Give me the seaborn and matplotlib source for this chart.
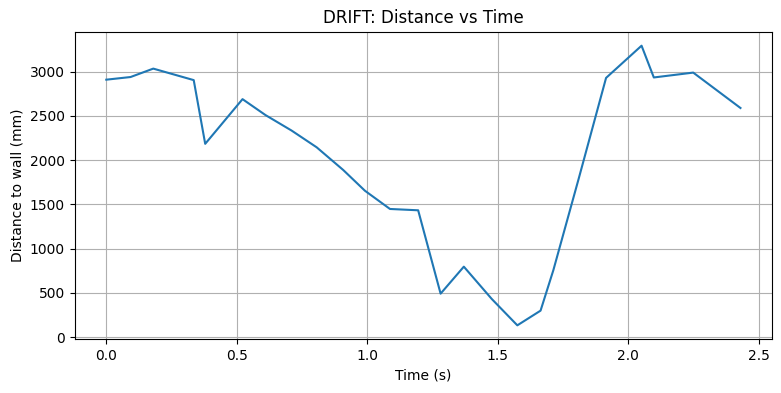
import matplotlib
matplotlib.use("Agg")
import matplotlib.pyplot as plt
import seaborn as sns
import pandas as pd

time_s = [0.0, 0.093, 0.180, 0.335, 0.379, 0.522, 0.61, 0.71, 0.806, 0.908,
          0.991, 1.087, 1.195, 1.281, 1.370, 1.477, 1.575, 1.664, 1.713, 1.81,
          1.915, 2.051, 2.098, 2.249, 2.430]
distance_mm = [2910, 2940, 3035, 2905, 2185, 2690, 2510, 2335, 2146, 1889,
               1655, 1449, 1434, 492, 797, 432, 134, 300, 757, 1790,
               2930, 3294, 2935, 2990, 2590]

df = pd.DataFrame({"Time (s)": time_s, "Distance to wall (mm)": distance_mm})

fig = plt.figure(figsize=(7.81, 3.93), dpi=100)
ax = fig.add_axes([0.0955, 0.1366, 0.8932, 0.7827])
sns.lineplot(data=df, x="Time (s)", y="Distance to wall (mm)", ax=ax,
             color="#1f77b4", linewidth=1.5, sort=False, estimator=None)
ax.grid(True)
ax.set_title("DRIFT: Distance vs Time")
ax.set_xlabel("Time (s)")
ax.set_ylabel("Distance to wall (mm)")
fig.savefig("out.png", dpi=100)
